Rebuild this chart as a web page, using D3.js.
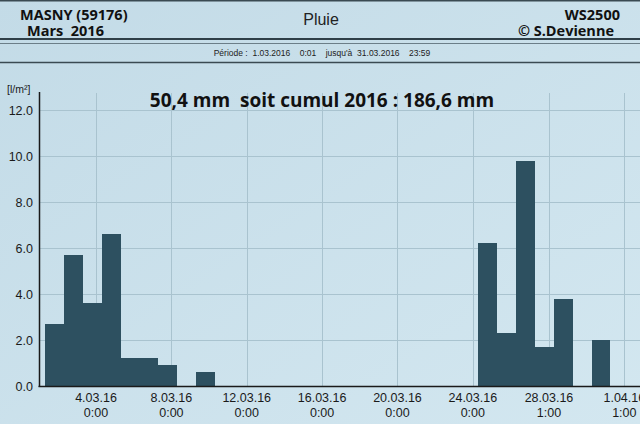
<!DOCTYPE html>
<html><head><meta charset="utf-8">
<script src="https://cdn.jsdelivr.net/npm/d3@7"></script>
<style>
html,body{margin:0;padding:0;background:#c8dfea;}
svg{display:block;}
</style></head>
<body>
<svg id="c" width="640" height="424"></svg>
<script>
// ---- data ----
const days = d3.range(1, 32); // 1..31 March 2016
const rain = [2.7, 5.7, 3.6, 6.6, 1.2, 1.2, 0.9, 0, 0.6, 0,
              0, 0, 0, 0, 0, 0, 0, 0, 0, 0,
              0, 0, 0, 6.2, 2.3, 9.8, 1.7, 3.8, 0, 2.0, 0];
const yTicks = [0, 2, 4, 6, 8, 10, 12];
const xTickDays = [3, 7, 11, 15, 19, 23, 27 + 1/24, 31 + 1/24]; // days since 1.03 0:00
const xTickDates = ["4.03.16", "8.03.16", "12.03.16", "16.03.16", "20.03.16", "24.03.16", "28.03.16", "1.04.16"];
const xTickTimes = ["0:00", "0:00", "0:00", "0:00", "0:00", "0:00", "1:00", "1:00"];
const station = "MASNY (59176)";
const month = "Mars  2016";
const chartTitle = "Pluie";
const device = "WS2500";
const author = "© S.Devienne";
const period = "Période :  1.03.2016    0:01    jusqu'à  31.03.2016    23:59";
const summary = "50,4 mm  soit cumul 2016 : 186,6 mm";
const unit = "[l/m²]";

// ---- layout ----
const svg = d3.select("#c");
const W = 640, H = 424;
const x0 = 39.5, pxPerDay = 18.84;
const x = d3.scaleLinear().domain([0, 32]).range([x0, x0 + 32 * pxPerDay]);
const y = d3.scaleLinear().domain([0, 12]).range([386, 110]);
const barOffset = 0.3;
const barColor = "#2d5060";
const gridColor = "#a9c3cf";

// background with slight gradient
const defs = svg.append("defs");
const lg = defs.append("linearGradient").attr("id", "bg").attr("x1", 0).attr("y1", 0).attr("x2", 1).attr("y2", 1);
lg.append("stop").attr("offset", "0").attr("stop-color", "#c3dbe7");
lg.append("stop").attr("offset", "1").attr("stop-color", "#d3e7f0");
svg.append("rect").attr("width", W).attr("height", H).attr("fill", "url(#bg)");

// header lines
svg.append("line").attr("x1", 0).attr("x2", W).attr("y1", 0.5).attr("y2", 0.5).attr("stroke", "#3a4a52").attr("stroke-width", 2);
svg.append("line").attr("x1", 0).attr("x2", W).attr("y1", 39).attr("y2", 39).attr("stroke", "#2f3f48").attr("stroke-width", 2);
svg.append("line").attr("x1", 0).attr("x2", W).attr("y1", 43.5).attr("y2", 43.5).attr("stroke", "#6b7e88").attr("stroke-width", 1);
svg.append("line").attr("x1", 0).attr("x2", W).attr("y1", 62.5).attr("y2", 62.5).attr("stroke", "#3a4a52").attr("stroke-width", 1.5);

const bold = "'Open Sans', 'DejaVu Sans', sans-serif";
const arial = "'Liberation Sans', Arial, sans-serif";
const hdr = (t, xx, yy, anchor) => svg.append("text").attr("x", xx).attr("y", yy).attr("text-anchor", anchor)
  .attr("font-family", bold).attr("font-weight", 700).attr("font-size", 14.5).attr("fill", "#111")
  .style("white-space", "pre").text(t);
hdr(station, 20, 19.5, "start");
hdr(month, 27, 36, "start");
hdr(device, 620, 19.5, "end");
hdr(author, 614, 36, "end");
svg.append("text").attr("x", 321).attr("y", 25).attr("text-anchor", "middle").attr("font-family", arial).attr("font-size", 16).attr("fill", "#222").text(chartTitle);
svg.append("text").attr("x", 322).attr("y", 56).attr("text-anchor", "middle").attr("font-family", arial).attr("font-size", 8.5).attr("fill", "#222").style("white-space", "pre").text(period);

// gridlines
const g = svg.append("g");
g.selectAll(".hg").data(yTicks.filter(d => d > 0)).join("line")
  .attr("x1", x0).attr("x2", W).attr("y1", d => Math.round(y(d)) + 0.5).attr("y2", d => Math.round(y(d)) + 0.5)
  .attr("stroke", gridColor).attr("stroke-width", 1);
g.selectAll(".vg").data(xTickDays).join("line")
  .attr("x1", d => Math.round(x(d)) + 0.5).attr("x2", d => Math.round(x(d)) + 0.5).attr("y1", 93).attr("y2", 386)
  .attr("stroke", gridColor).attr("stroke-width", 1);

// summary text
svg.append("text").attr("x", 322).attr("y", 107).attr("text-anchor", "middle").attr("font-family", bold).attr("font-weight", 700).attr("font-size", 19).attr("fill", "#111").style("white-space", "pre").text(summary);

// bars
svg.append("g").selectAll("rect").data(days.map((d, i) => ({day: d, v: rain[i]})).filter(d => d.v > 0)).join("rect")
  .attr("x", d => x(d.day - 1 + barOffset))
  .attr("width", d => x(d.day + barOffset) - x(d.day - 1 + barOffset))
  .attr("y", d => y(d.v))
  .attr("height", d => y(0) - y(d.v))
  .attr("fill", barColor)
  .attr("shape-rendering", "crispEdges");

// axes lines
svg.append("line").attr("x1", x0).attr("x2", x0).attr("y1", 92).attr("y2", 387).attr("stroke", "#1a1a1a").attr("stroke-width", 1.5);
svg.append("line").attr("x1", x0 - 1).attr("x2", W).attr("y1", 386.5).attr("y2", 386.5).attr("stroke", "#1a1a1a").attr("stroke-width", 1.5);

// y labels
svg.append("g").selectAll("text").data(yTicks).join("text")
  .attr("x", 33).attr("y", d => y(d) + 4.5).attr("text-anchor", "end")
  .attr("font-family", arial).attr("font-size", 12.5).attr("fill", "#1a1a1a")
  .text(d => d3.format(".1f")(d));
svg.append("text").attr("x", 7).attr("y", 93).attr("font-family", arial).attr("font-size", 10.5).attr("fill", "#1a1a1a").text(unit);

// x labels
const xl = svg.append("g").selectAll("g").data(xTickDays).join("g")
  .attr("transform", d => `translate(${x(d)},0)`);
xl.append("text").attr("y", 402).attr("text-anchor", "middle").attr("font-family", arial).attr("font-size", 12.5).attr("fill", "#1a1a1a").text((d, i) => xTickDates[i]);
xl.append("text").attr("y", 417).attr("text-anchor", "middle").attr("font-family", arial).attr("font-size", 12.5).attr("fill", "#1a1a1a").text((d, i) => xTickTimes[i]);
</script>
</body></html>
